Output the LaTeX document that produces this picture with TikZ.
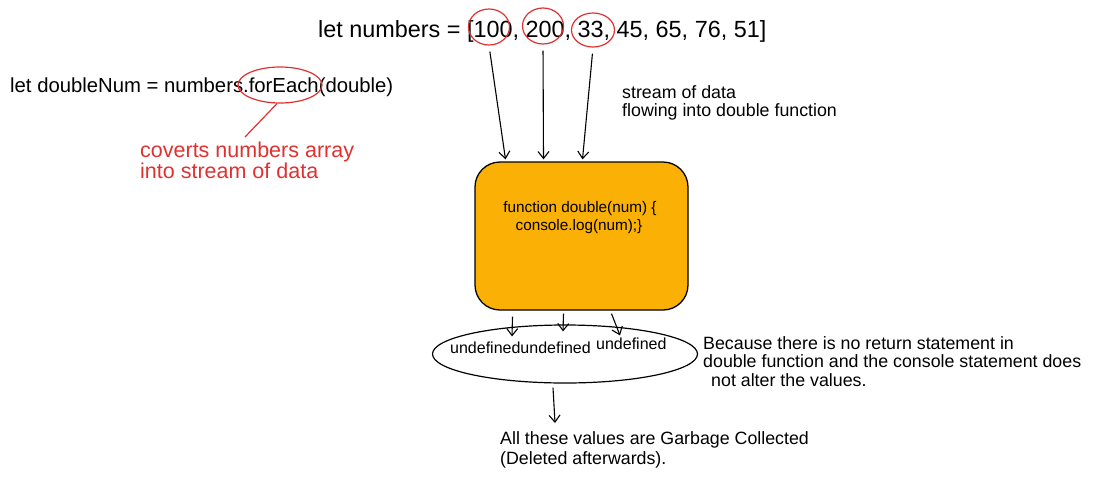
\documentclass[tikz,border=0pt]{standalone}
\usepackage{fontspec}
\setmainfont{Liberation Sans}
\usetikzlibrary{arrows.meta,shapes.geometric}
\definecolor{exred}{HTML}{E03131}
\definecolor{exorange}{HTML}{FAB005}
\begin{document}
\begin{tikzpicture}[x=1pt,y=-1pt,
  txt/.style={anchor=base west,inner sep=0pt,font=\fontsize{17.8}{21}\selectfont},
  redtxt/.style={txt,text=exred,font=\fontsize{21.5}{25}\selectfont},
  rc/.style={draw=exred,line width=1.2pt,ellipse,inner sep=0pt},
  arr/.style={-{Straight Barb[length=7pt,width=11pt]},line width=1.1pt},
  fnbox/.style={draw=black,line width=1.3pt,fill=exorange,rounded corners=25pt,minimum width=213pt,minimum height=148pt,inner sep=0pt},
  boxtxt/.style={anchor=base,inner sep=0pt,font=\fontsize{15.3}{18}\selectfont},
  undef/.style={anchor=base west,inner sep=0pt,font=\fontsize{16}{19}\selectfont}]
\useasboundingbox (0,0) rectangle (1093,477);

% top line and circles
\node[txt,font=\fontsize{23.4}{28}\selectfont] (top) at (318,37) {let numbers = [100, 200, 33, 45, 65, 76, 51]};
\node[rc,minimum width=41pt,minimum height=36pt] (c100) at (489,27) {};
\node[rc,minimum width=41pt,minimum height=36pt] (c200) at (543,26) {};
\node[rc,minimum width=43pt,minimum height=34pt] (c33) at (593,30) {};

% second line
\node[txt,font=\fontsize{20.3}{24}\selectfont] (dbl) at (10,92) {let doubleNum = numbers.forEach(double)};
\node[rc,minimum width=84pt,minimum height=36pt] (fe) at (280,85) {};
\node[redtxt] (r1) at (140,157) {coverts numbers array};
\node[redtxt] (r2) at (140,178) {into stream of data};
\coordinate (rtip) at (245,137);
\draw[exred,line width=1.2pt] ([xshift=-3pt]fe.south) -- (rtip);

% stream label
\node[txt] (s1) at (622,98) {stream of data};
\node[txt] (s2) at (622,116) {flowing into double function};

% function box
\node[fnbox] (fn) at (581.5,236) {};
\node[boxtxt] (f1) at (580,212) {function double(num) \{};
\node[boxtxt] (f2) at (579,230) {console.log(num);\}};

\draw[arr,shorten <=6pt] (c100.south) -- ([xshift=-76pt,yshift=2pt]fn.north);
\draw[arr,shorten <=6pt] (c200.south) -- ([xshift=-38pt,yshift=2pt]fn.north);
\draw[arr,shorten <=6pt] (c33.south) -- ([xshift=1pt,yshift=2pt]fn.north);

% result ellipse
\node[draw=black,line width=1.2pt,ellipse,minimum width=265pt,minimum height=58pt,inner sep=0pt] (res) at (565,354) {};
\node[undef] (u1) at (450,353) {undefinedundefined};
\node[undef] (u2) at (596,349) {undefined};

\draw[arr] ([xshift=-69pt,yshift=-6pt]fn.south) -- ([xshift=-53pt,yshift=-12pt]res.north);
\draw[arr] ([xshift=-18pt,yshift=-3pt]fn.south) -- ([xshift=-2pt,yshift=-7pt]res.north);
\draw[arr] ([xshift=30pt,yshift=-3pt]fn.south) -- ([xshift=55pt,yshift=-11pt]res.north);

% explanation
\node[txt] (b1) at (703,349) {Because there is no return statement in};
\node[txt] (b2) at (703,367) {double function and the console statement does};
\node[txt] (b3) at (711,386) {not alter the values.};

% garbage
\node[txt] (g1) at (500,444) {All these values are Garbage Collected};
\node[txt] (g2) at (500,464) {(Deleted afterwards).};
\coordinate (gtip) at (555,423);
\draw[arr] ([xshift=-12pt,yshift=-4pt]res.south) -- (gtip);
\end{tikzpicture}
\end{document}
